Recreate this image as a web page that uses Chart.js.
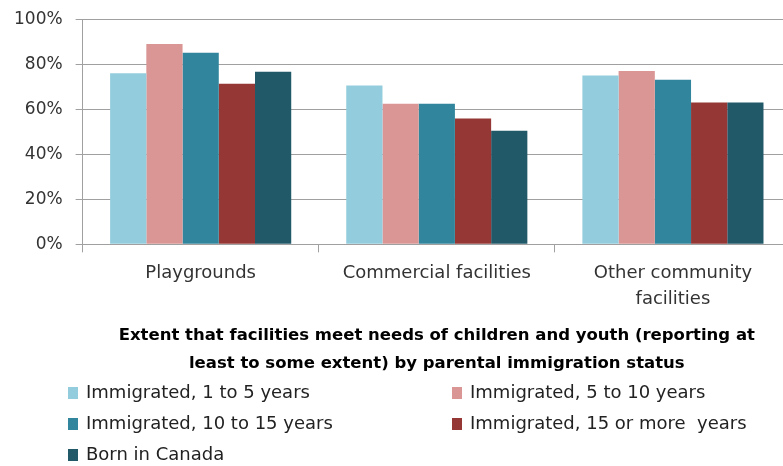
<!DOCTYPE html>
<html>
<head>
<meta charset="utf-8">
<script src="https://cdn.jsdelivr.net/npm/chart.js@4.4.1/dist/chart.umd.min.js"></script>
<style>
	html, body { margin: 0; padding: 0; background: #fff; overflow: hidden; }
	/* plot runs a little past the right edge, like the original picture */
	.chartbox { position: relative; width: 795px; height: 466px; }
</style>
</head>
<body>
<div class="chartbox"><canvas id="chart-facilities"></canvas></div>
<script>
// categories and series (percent)
var categories = ["Playgrounds", "Commercial facilities", ["Other community", "facilities"]];
var seriesNames = [
	"Immigrated, 1 to 5 years",
	"Immigrated, 5 to 10 years",
	"Immigrated, 10 to 15 years",
	"Immigrated, 15 or more  years",
	"Born in Canada"
];
var immigrated1to5 = [76.1, 70.6, 75.1];
var immigrated5to10 = [89.0, 62.5, 77.1];
var immigrated10to15 = [85.2, 62.5, 73.2];
var immigrated15plus = [71.4, 55.9, 63.1];
var bornInCanada = [76.7, 50.5, 63.1];
var yTickLabels = ["0%", "20%", "40%", "60%", "80%", "100%"];
var titleLines = [
	"Extent that facilities meet needs of children and youth (reporting at",
	"least to some extent) by parental immigration status"
];

var colors = ["#93CDDD", "#D99694", "#31859C", "#953735", "#215968"];
var values = [immigrated1to5, immigrated5to10, immigrated10to15, immigrated15plus, bornInCanada];

var datasets = [];
for (let i = 0; i < seriesNames.length; i++) {
	datasets.push({
		label: seriesNames[i],
		data: values[i],
		backgroundColor: colors[i],
		borderWidth: 0,
		categoryPercentage: 0.767,
		barPercentage: 1.0
	});
}

// legend in two columns under the title
var gridLegend = {
	id: "gridLegend",
	afterDraw: function(chart, args, opts) {
		var ctx = chart.ctx;
		ctx.save();
		ctx.font = opts.font;
		ctx.textBaseline = "middle";
		ctx.textAlign = "left";
		chart.data.datasets.forEach(function(ds, i) {
			var col = i % 2;
			var row = Math.floor(i / 2);
			var x = opts.colX[col];
			var y = opts.rowY[row];
			ctx.fillStyle = ds.backgroundColor;
			ctx.fillRect(x, y - 6, 10, 12);
			ctx.fillStyle = opts.color;
			ctx.fillText(ds.label, x + 18, y);
		});
		ctx.restore();
	}
};

var ctx = document.getElementById("chart-facilities").getContext("2d");
new Chart(ctx, {
	type: "bar",
	data: {
		labels: categories,
		datasets: datasets
	},
	plugins: [gridLegend],
	options: {
		responsive: true,
		maintainAspectRatio: false,
		animation: false,
		layout: {
			padding: { top: 0, left: 1, right: 4, bottom: 85 }
		},
		plugins: {
			legend: { display: false },
			tooltip: { enabled: false },
			title: {
				display: true,
				position: "bottom",
				fullSize: false,
				text: titleLines,
				color: "#000",
				font: { family: "DejaVu Sans", size: 16.5, weight: "bold", lineHeight: 1.65 },
				padding: { top: 2, bottom: 4 }
			},
			gridLegend: {
				font: "18px 'DejaVu Sans'",
				color: "#222",
				colX: [68, 452],
				rowY: [393, 424, 455]
			}
		},
		scales: {
			y: {
				min: 0,
				max: 100,
				border: { color: "#A0A0A0" },
				grid: {
					color: "#A0A0A0",
					tickLength: 7
				},
				ticks: {
					stepSize: 20,
					padding: 13,
					color: "#333",
					font: { family: "DejaVu Sans", size: 17, lineHeight: 0.75 },
					callback: function(value) {
						return yTickLabels[value / 20];
					}
				}
			},
			x: {
				border: { color: "#A0A0A0" },
				grid: {
					offset: true,
					drawOnChartArea: false,
					drawTicks: true,
					tickLength: 8,
					color: "#A0A0A0"
				},
				ticks: {
					autoSkip: false,
					maxRotation: 0,
					minRotation: 0,
					padding: 8,
					color: "#333",
					font: { family: "DejaVu Sans", size: 18, lineHeight: 1.45 }
				}
			}
		}
	}
});
</script>
</body>
</html>
